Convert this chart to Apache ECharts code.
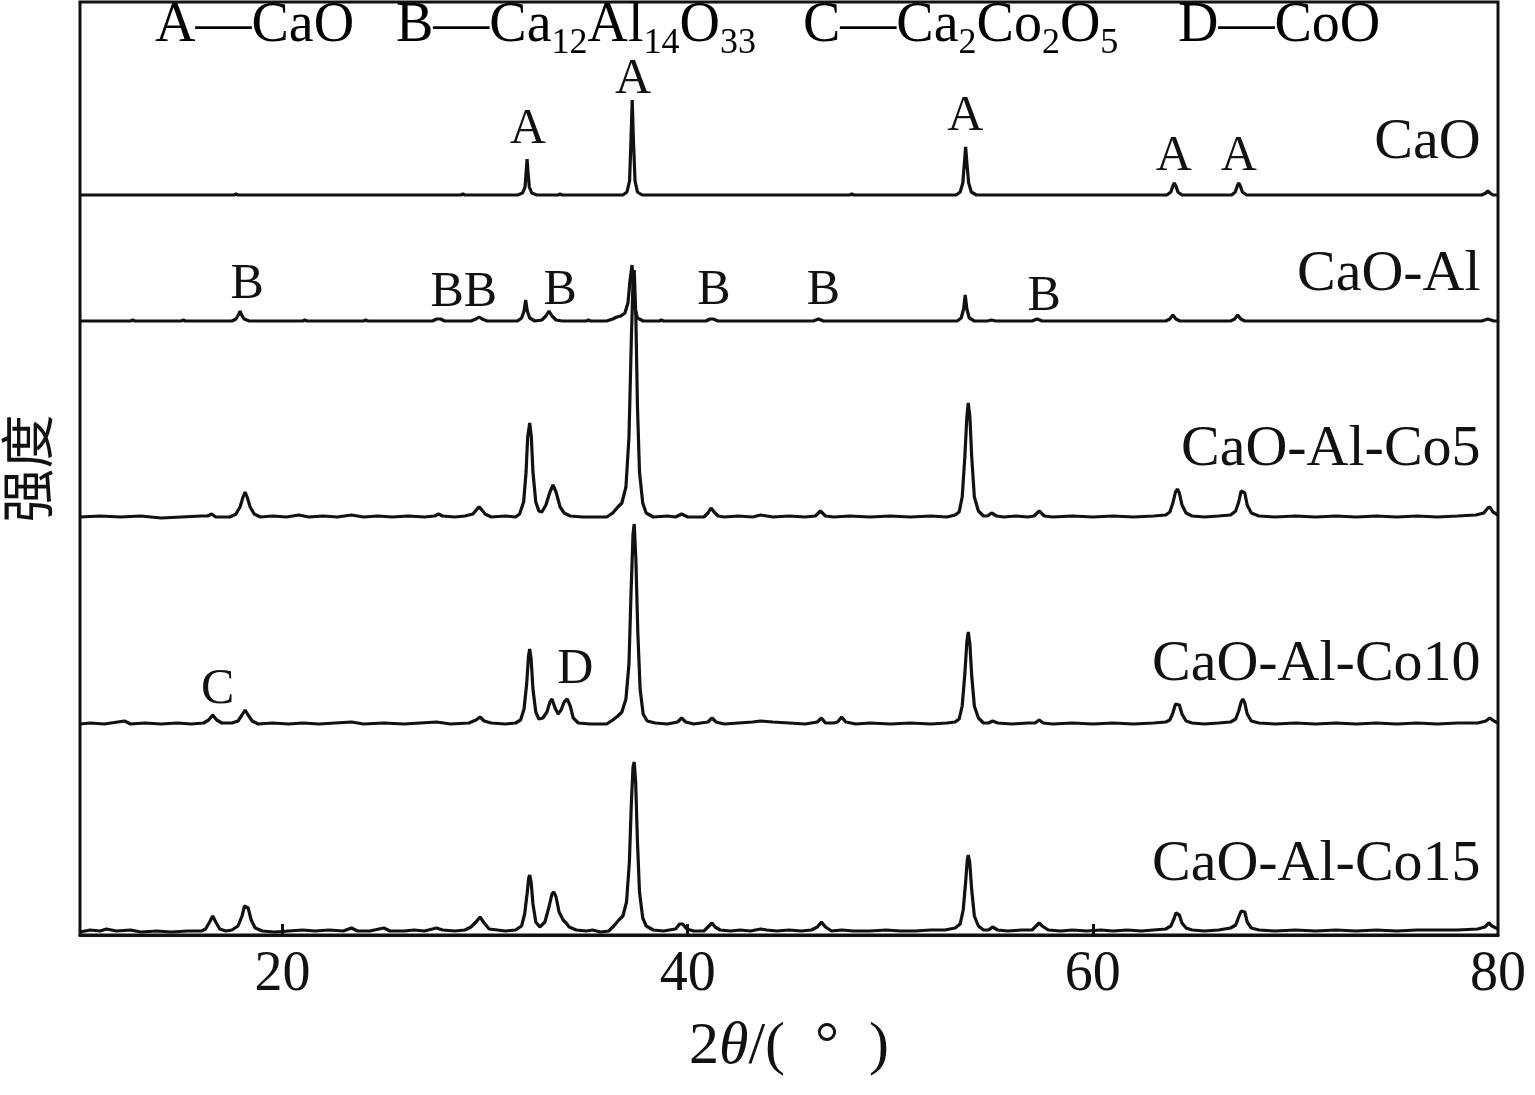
<!DOCTYPE html>
<html>
<head>
<meta charset="utf-8">
<script src="https://cdn.jsdelivr.net/npm/echarts@6/dist/echarts.min.js"></script>
<style>
html,body{margin:0;padding:0;background:#fff;}
#chart{width:1535px;height:1095px;}
</style>
</head>
<body>
<div id="chart"></div>
<script>
// ---------- DATA (2θ in degrees, intensity above each pattern's baseline, arbitrary units) ----------
const sampleNames = ['CaO', 'CaO-Al', 'CaO-Al-Co5', 'CaO-Al-Co10', 'CaO-Al-Co15'];
// vertical offsets of each stacked pattern (arbitrary units)
const baselines = [740, 614, 418, 211, 3];
// y position (arbitrary units) of each sample name label
const nameLevels = [792, 660, 485, 270, 70];
const xTicks = [20, 40, 60, 80];

const caoPts = [
  [10,0],[17.6,0],[17.7,1],[17.8,0],[28.8,0],[28.9,1],[29.0,0],
  [31.6,0],[31.85,2],[31.97,8],[32.02,22],[32.07,36],[32.12,22],[32.18,8],[32.3,2],[32.55,0],
  [33.6,0],[33.7,1],[33.8,0],
  [36.8,0],[37.0,3],[37.13,14],[37.2,55],[37.26,95],[37.32,55],[37.4,14],[37.52,3],[37.75,0],
  [48.0,0],[48.1,1],[48.2,0],
  [53.25,0],[53.45,3],[53.58,12],[53.65,30],[53.72,48],[53.79,30],[53.87,12],[54.0,3],[54.25,0],
  [63.65,0],[63.85,3],[63.95,9],[64.02,12],[64.1,9],[64.2,3],[64.4,0],
  [66.85,0],[67.03,3],[67.13,9],[67.2,12],[67.28,9],[67.38,3],[67.6,0],
  [79.2,0],[79.4,2],[79.5,4],[79.6,2],[79.75,0],[80,0]
];

const caoAlPts = [
  [10,0],[12.5,0],[12.6,1],[12.7,0],[15.0,0],[15.1,1],[15.2,0],
  [17.5,0],[17.7,2],[17.82,6],[17.9,10],[17.98,6],[18.1,2],[18.35,0],
  [21.0,0],[21.1,1],[21.2,0],[24.0,0],[24.1,1],[24.2,0],
  [27.4,0],[27.6,2],[27.8,2],[28.0,0],
  [29.3,0],[29.55,2],[29.7,4],[29.85,2],[30.1,0],
  [31.6,0],[31.8,3],[31.92,10],[32.0,21],[32.08,10],[32.2,3],[32.45,0],
  [32.8,1],[33.0,5],[33.15,10],[33.3,5],[33.5,1],[33.8,0],
  [35.0,0],[35.1,1],[35.2,0],
  [36.0,0],[36.3,2],[36.5,4],[36.7,5],[36.9,8],[37.05,18],[37.15,40],[37.25,56],[37.32,35],[37.4,12],[37.52,3],[37.8,0],
  [38.6,0],[38.7,1],[38.8,0],
  [40.9,0],[41.1,2],[41.25,2],[41.5,0],
  [46.2,0],[46.45,2],[46.7,0],
  [53.3,0],[53.5,3],[53.62,12],[53.7,26],[53.78,12],[53.9,3],[54.15,0],
  [54.8,0],[55.0,1],[55.2,0],
  [57.0,0],[57.25,2],[57.5,0],
  [63.6,0],[63.8,2],[63.95,6],[64.1,2],[64.3,0],
  [66.8,0],[67.0,2],[67.15,6],[67.3,2],[67.5,0],
  [79.2,0],[79.5,2],[79.8,0],[80,0]
];

const co5Pts = [
  [10,0],[11,1],[12,0],[13,1],[14,-1],[15,0],[16.0,1],
  [16.3,1],[16.5,3],[16.7,0],
  [17.4,0],[17.7,3],[17.9,10],[18.05,20],[18.15,25],[18.25,20],[18.4,10],[18.6,3],[18.9,0],
  [19.5,1],[20.2,0],[20.8,2],[21.3,0],[22,1],[22.7,0],[23.4,2],[24,0],[24.7,1],[25.4,0],[26.2,1],[27,0],
  [27.5,1],[27.7,3],[27.9,1],[28.5,0],[29.0,1],
  [29.4,3],[29.6,8],[29.7,10],[29.8,8],[30.0,3],[30.3,0],[31.0,1],[31.5,0],
  [31.7,3],[31.9,15],[32.02,45],[32.1,80],[32.2,94],[32.28,80],[32.36,45],[32.5,15],[32.65,6],[32.8,5],
  [33.0,12],[33.2,25],[33.35,32],[33.5,25],[33.7,10],[33.9,4],[34.2,1],[34.8,0],[35.5,0],[36.0,0],
  [36.3,4],[36.55,10],[36.75,14],[36.95,30],[37.1,80],[37.22,180],[37.3,235],[37.36,247],[37.44,200],[37.52,110],[37.62,45],[37.78,14],[37.95,4],[38.3,0],
  [39.0,1],[39.4,0],[39.7,3],[40.0,0],
  [40.8,0],[41.0,4],[41.15,9],[41.3,5],[41.5,1],[41.8,0],
  [42.5,1],[43.2,0],[43.6,2],[44.2,0],[45,1],[45.8,0],
  [46.3,1],[46.55,6],[46.8,1],[47.2,0],[48,1],[49,0],[50,1],[51,0],[52,1],[52.8,0],[53.2,2],
  [53.4,5],[53.55,20],[53.68,60],[53.78,100],[53.85,114],[53.93,100],[54.02,60],[54.15,20],[54.35,6],[54.6,1],
  [54.8,1],[55.0,4],[55.25,1],[55.6,0],[56.2,1],[56.8,0],
  [57.1,1],[57.35,6],[57.6,1],[58,0],[59,1],[60,0],[61,1],[62,0],[63,1],[63.6,2],
  [63.8,5],[63.95,14],[64.08,25],[64.17,28],[64.27,24],[64.4,12],[64.6,4],[64.9,1],[65.5,0],[66.2,1],[66.8,2],
  [67.05,6],[67.2,15],[67.32,26],[67.4,28],[67.5,24],[67.62,12],[67.82,4],[68.2,1],[69,0],[70,1],[71,0],[72,1],[73,0],[74,1],[75,0],[76,1],[77,0],[78,1],[78.9,2],
  [79.3,4],[79.5,9],[79.6,10],[79.75,5],[80,2]
];

const co10Pts = [
  [10,0],[10.5,1],[11.2,0],[12.2,3],[12.5,0],[13.2,1],[14,0],[14.8,1],[15.5,0],[16.1,1],
  [16.35,4],[16.55,9],[16.75,4],[17.0,1],[17.5,1],
  [17.8,3],[18.0,9],[18.15,14],[18.3,9],[18.5,3],[18.8,0],
  [19.5,1],[20.3,0],[21,1],[21.8,0],[22.6,1],[23.4,2],[24,0],[25,1],[26,0],[26.8,1],[27.6,2],[28.3,0],[29.2,1],
  [29.55,4],[29.75,7],[29.95,3],[30.3,1],[31.0,0],[31.5,1],
  [31.75,4],[31.92,15],[32.05,40],[32.14,68],[32.2,75],[32.27,65],[32.36,35],[32.5,12],[32.65,5],[32.85,6],
  [33.05,12],[33.2,22],[33.3,25],[33.45,16],[33.6,10],[33.75,14],[33.9,22],[34.05,25],[34.2,18],[34.35,6],[34.6,1],[35.2,0],[36.0,0],
  [36.3,4],[36.55,8],[36.75,12],[36.95,25],[37.1,60],[37.2,130],[37.3,190],[37.36,200],[37.44,165],[37.54,90],[37.65,35],[37.8,10],[38.0,3],[38.4,1],[39,0],
  [39.5,2],[39.7,6],[39.9,2],[40.3,0],
  [41.0,2],[41.2,6],[41.4,2],[41.8,0],[42.5,1],[43.2,2],[43.6,3],[44.2,2],[45,1],[45.8,0],
  [46.4,2],[46.6,6],[46.8,1],[47.2,1],
  [47.4,2],[47.6,7],[47.8,2],[48.3,0],[49,1],[50,0],[51,1],[52,0],[52.8,1],[53.2,2],
  [53.4,5],[53.55,18],[53.68,50],[53.78,82],[53.85,92],[53.93,80],[54.02,48],[54.15,18],[54.35,6],[54.6,1],
  [54.85,1],[55.05,3],[55.3,1],[56,0],[56.8,1],
  [57.15,1],[57.35,4],[57.55,1],[58,0],[59,1],[60,0],[61,1],[62,0],[63,1],[63.6,2],
  [63.8,4],[63.95,11],[64.08,20],[64.17,22],[64.27,19],[64.4,10],[64.6,3],[64.9,1],[65.5,0],[66.2,1],[66.8,2],
  [67.05,5],[67.2,13],[67.32,22],[67.4,25],[67.5,21],[67.62,10],[67.82,3],[68.2,1],[69,0],[70,1],[71,0],[72,1],[73,0],[74,1],[75,0],[76,1],[77,0],[78,1],[79,1],
  [79.4,3],[79.6,6],[79.8,3],[80,1]
];

const co15Pts = [
  [10,0],[10.5,2],[11,1],[11.3,3],[11.8,1],[12.5,2],[13,0],[13.8,1],[14.5,0],[15.3,1],[16.0,1],
  [16.2,3],[16.4,10],[16.55,16],[16.7,10],[16.9,3],[17.2,1],[17.5,2],
  [17.8,6],[18.0,16],[18.12,26],[18.2,28],[18.3,24],[18.45,12],[18.65,4],[19.0,1],
  [19.6,0],[20.3,1],[21,2],[21.6,1],[22.3,2],[23,1],[23.4,4],[23.7,1],[24.3,1],[25.0,4],[25.3,1],[26,1],[26.5,2],[27,1],[27.6,4],[27.9,2],[28.5,1],[29.0,2],[29.3,5],
  [29.55,10],[29.75,15],[29.95,9],[30.2,3],[30.6,2],[31,1],[31.5,2],
  [31.8,6],[31.95,18],[32.07,38],[32.15,54],[32.2,57],[32.27,50],[32.36,28],[32.5,10],[32.7,5],
  [32.95,10],[33.15,25],[33.3,38],[33.4,40],[33.5,35],[33.65,20],[33.85,12],[34.0,9],[34.15,5],[34.5,2],[35,1],[35.3,2],[35.7,0],[36.1,1],
  [36.35,6],[36.6,12],[36.8,16],[36.98,30],[37.12,70],[37.22,130],[37.3,165],[37.36,170],[37.43,150],[37.52,90],[37.62,40],[37.78,14],[37.95,6],[38.3,2],[38.8,1],
  [39.4,3],[39.6,8],[39.75,8],[39.95,3],[40.3,1],[40.8,1],
  [41.05,6],[41.2,9],[41.35,5],[41.6,2],[42.1,1],[42.6,2],[43.1,1],[43.6,3],[43.9,2],[44.4,1],[45,2],[45.6,1],[46.1,2],
  [46.4,5],[46.6,10],[46.8,5],[47.1,1],[47.6,2],[48.2,1],[49,1],[49.8,2],[50.5,1],[51.2,1],[52,2],[52.7,2],[53.2,4],
  [53.45,8],[53.6,22],[53.72,50],[53.8,72],[53.85,77],[53.92,70],[54.02,42],[54.15,16],[54.35,6],[54.6,2],
  [54.85,2],[55.05,5],[55.3,2],[55.8,1],[56.5,2],[57.0,2],
  [57.2,6],[57.35,9],[57.5,6],[57.8,2],[58.4,1],[59,2],[59.7,1],[60.4,2],[61,1],[61.7,2],[62.4,1],[63,2],[63.6,3],
  [63.85,6],[64.0,13],[64.1,19],[64.17,20],[64.27,17],[64.4,9],[64.6,4],[64.9,2],[65.5,1],[66.2,2],[66.8,4],
  [67.05,7],[67.2,15],[67.32,21],[67.4,23],[67.5,20],[67.62,10],[67.82,4],[68.2,2],[69,1],[70,2],[71,1],[72,2],[73,1],[74,2],[75,1],[76,2],[77,2],[78,2],[79,3],
  [79.35,5],[79.55,9],[79.7,6],[80,3]
];

const patterns = [caoPts, caoAlPts, co5Pts, co10Pts, co15Pts];

// phase marks: [2θ, height above the pattern's baseline, letter]
const caoMarks   = [[32.1, 65, 'A'], [37.3, 115, 'A'], [53.7, 78, 'A'], [64.0, 38, 'A'], [67.2, 38, 'A']];
const caoAlMarks = [[18.25, 36, 'B'], [28.95, 28, 'BB'], [33.7, 30, 'B'], [41.3, 30, 'B'], [46.7, 30, 'B'], [57.6, 24, 'B']];
const co10Marks  = [[16.8, 34, 'C'], [34.45, 54, 'D']];
const marksByPattern = [caoMarks, caoAlMarks, [], co10Marks, []];

// ---------- CHART ----------
const serif = "'Liberation Serif','Times New Roman',serif";
const chart = echarts.init(document.getElementById('chart'), null, {renderer: 'canvas'});

const series = patterns.map((pts, i) => ({
  type: 'line',
  name: sampleNames[i],
  data: pts.map(p => [p[0], baselines[i] + p[1]]),
  showSymbol: false,
  symbol: 'none',
  lineStyle: {color: '#111', width: 3.2},
  z: 3,
  animation: false
}));

const markData = [];
marksByPattern.forEach((m, i) => m.forEach(p => markData.push([p[0], baselines[i] + p[1], p[2]])));
series.push({
  type: 'scatter',
  data: markData,
  symbolSize: 0,
  silent: true,
  animation: false,
  itemStyle: {opacity: 1, color: '#111'},
  label: {
    show: true, position: 'inside', formatter: p => p.value[2],
    fontFamily: serif, fontSize: 50, color: '#111', opacity: 1
  }
});

series.push({
  type: 'scatter',
  data: sampleNames.map((n, i) => [79.14, nameLevels[i], n]),
  symbolSize: 0,
  silent: true,
  animation: false,
  itemStyle: {opacity: 1, color: '#111'},
  label: {
    show: true, position: 'inside', align: 'right', formatter: p => p.value[2],
    fontFamily: serif, fontSize: 58, color: '#111', opacity: 1
  }
});

const mainSt = {fontFamily: serif, fontSize: 56, lineHeight: 72, color: '#111', verticalAlign: 'middle'};
const subSt = {fontFamily: serif, fontSize: 36, lineHeight: 36, color: '#111', verticalAlign: 'bottom'};
function legendText(x, str) {
  return {
    type: 'text', left: x, top: -2, silent: true,
    style: {text: str, rich: {m: mainSt, s: subSt}}
  };
}

chart.setOption({
  animation: false,
  backgroundColor: '#fff',
  grid: {left: 80, right: 37, top: 2, bottom: 160, outerBoundsMode: 'none', containLabel: false,
         show: true, borderColor: '#111', borderWidth: 3, backgroundColor: 'transparent'},
  xAxis: {
    type: 'value', min: 10, max: 80,
    name: '{n|2}{i|θ}{n|/(  °  )}',
    nameLocation: 'middle', nameGap: 82,
    nameTextStyle: {rich: {
      n: {fontFamily: serif, fontSize: 60, color: '#111'},
      i: {fontFamily: serif, fontSize: 60, fontStyle: 'italic', color: '#111'}
    }},
    axisLine: {show: true, lineStyle: {color: '#111', width: 3}},
    axisTick: {show: true, inside: true, length: 11, lineStyle: {color: '#111', width: 3}, customValues: [20, 40, 60]},
    axisLabel: {show: true, margin: 12, fontFamily: serif, fontSize: 56, color: '#111', customValues: xTicks},
    splitLine: {show: false}
  },
  yAxis: {
    type: 'value', min: 0, max: 933,
    name: '强度', nameLocation: 'middle', nameGap: 26,
    nameTextStyle: {fontFamily: "'Noto Sans CJK SC', sans-serif", fontSize: 54, color: '#111'},
    axisLine: {show: false}, axisTick: {show: false}, axisLabel: {show: false}, splitLine: {show: false}
  },
  graphic: [
    legendText(155, '{m|A—CaO}'),
    legendText(396, '{m|B—Ca}{s|12}{m|Al}{s|14}{m|O}{s|33}'),
    legendText(803, '{m|C—Ca}{s|2}{m|Co}{s|2}{m|O}{s|5}'),
    legendText(1178, '{m|D—CoO}')
  ],
  series: series
});
</script>
</body>
</html>
